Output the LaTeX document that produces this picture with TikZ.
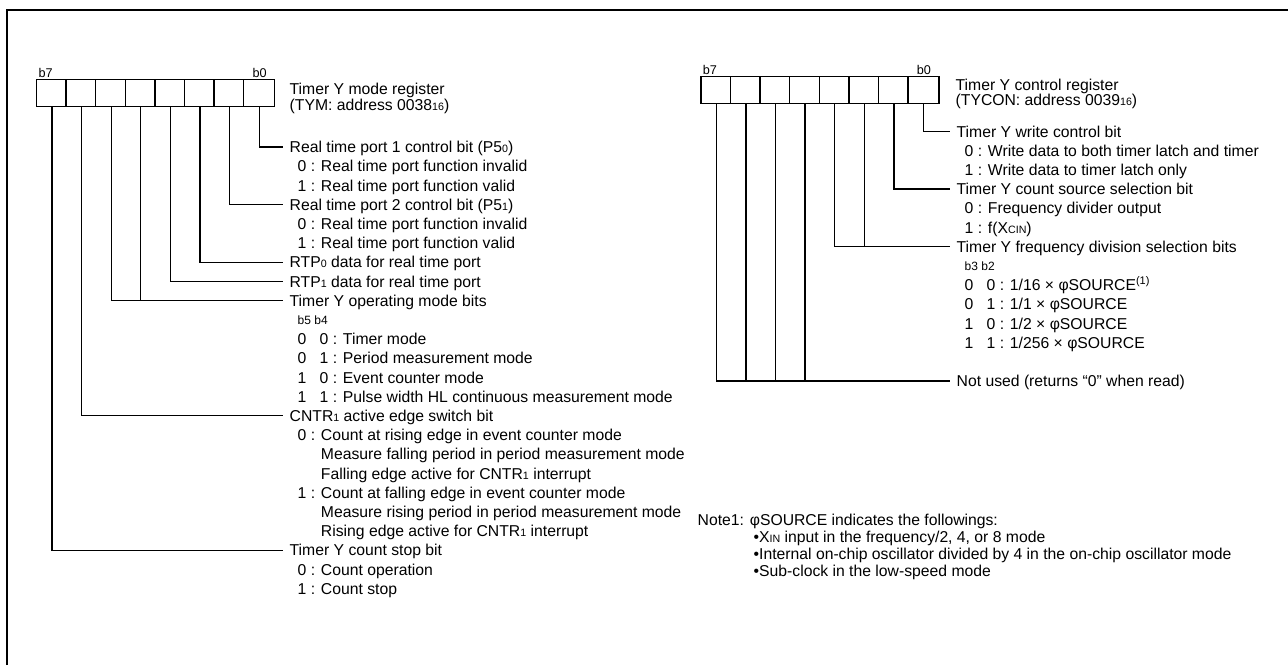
\documentclass[tikz,border=0pt]{standalone}
\usepackage{fontspec}
\setmainfont{Liberation Sans}
\usepackage{tikz}
\usetikzlibrary{positioning, calc}

\newcommand{\lowsub}[1]{{\fontsize{8}{8}\selectfont #1}}
\newcommand{\twobit}[2]{\makebox[16.5pt][l]{#1}#2}

\begin{document}
\begin{tikzpicture}[x=0.75pt, y=-0.75pt, line width=1pt,
    cell/.style={minimum width=22.2pt, minimum height=19.5pt, inner sep=0pt},
    bitno/.style={font=\fontsize{9.5}{10}\selectfont, inner sep=1pt},
    txt/.style={anchor=west, inner xsep=0pt, inner ysep=0pt, text height=8.4pt, text depth=0pt, font=\fontsize{11.8}{14}\selectfont},
    hd/.style={txt, inner xsep=4.5pt},
    small/.style={txt, text height=6.4pt, font=\fontsize{9}{10}\selectfont}]

    \useasboundingbox (0,0) rectangle (1288,665);
    % outer frame (top and left only)
    \draw[line width=2pt] (7,665) -- (7,10) -- (1288,10);

    % Timer Y mode register
    \foreach \b in {0,...,7}
        \node[cell] (tym\b) at ({259.2-\b*29.6}, 93) {};
    \draw (tym7.north west) rectangle (tym0.south east);
    \foreach \b in {0,...,6}
        \draw (tym\b.north west) -- (tym\b.south west);
    \node[bitno, anchor=south west] (tymb7) at (tym7.north west) {b7};
    \node[bitno, anchor=south east] (tymb0) at ([xshift=-4.5pt]tym0.north east) {b0};
    \node[txt] (tymname) at (289, 89) {Timer Y mode register};
    \node[txt] (tymaddr) at (289, 104.5) {(TYM: address 0038\lowsub{16})};

    \node[hd] (tymp50) at (283, 147) {Real time port 1 control bit (P5\lowsub{0})};
    \node[hd] (tymp51) at (283, {147+3*19.2}) {Real time port 2 control bit (P5\lowsub{1})};
    \node[hd] (tymrtp0) at (283, {147+6*19.2}) {RTP\lowsub{0} data for real time port};
    \node[hd] (tymrtp1) at (283, {147+7*19.2}) {RTP\lowsub{1} data for real time port};
    \node[hd] (tymmode) at (283, {147+8*19.2}) {Timer Y operating mode bits};
    \node[hd] (tymcntr) at (283, {147+14*19.2}) {CNTR\lowsub{1} active edge switch bit};
    \node[hd] (tymstop) at (283, {147+21*19.2}) {Timer Y count stop bit};

    \foreach \k/\t in {1/{0 : Real time port function invalid},
                       2/{1 : Real time port function valid},
                       4/{0 : Real time port function invalid},
                       5/{1 : Real time port function valid},
                       10/{\twobit{0}{0} : Timer mode},
                       11/{\twobit{0}{1} : Period measurement mode},
                       12/{\twobit{1}{0} : Event counter mode},
                       13/{\twobit{1}{1} : Pulse width HL continuous measurement mode},
                       15/{0 : Count at rising edge in event counter mode},
                       16/{\phantom{0 : }Measure falling period in period measurement mode},
                       17/{\phantom{0 : }Falling edge active for CNTR\lowsub{1} interrupt},
                       18/{1 : Count at falling edge in event counter mode},
                       19/{\phantom{1 : }Measure rising period in period measurement mode},
                       20/{\phantom{1 : }Rising edge active for CNTR\lowsub{1} interrupt},
                       22/{0 : Count operation},
                       23/{1 : Count stop}}
        \node[txt] (tymsub\k) at (297, {147+\k*19.2}) {\t};
    \node[small] (tymb54) at (297, {147+9*19.2}) {b5 b4};

    \draw (tym0.south) |- (tymp50.west);
    \draw (tym1.south) |- (tymp51.west);
    \draw (tym2.south) |- (tymrtp0.west);
    \draw (tym3.south) |- (tymrtp1.west);
    \draw (tym5.south) |- (tymmode.west);
    \draw (tym4.south) -- (tym4.south |- tymmode.west);
    \draw (tym6.south) |- (tymcntr.west);
    \draw (tym7.south) |- (tymstop.west);

    % Timer Y control register
    \foreach \b in {0,...,7}
        \node[cell] (tyc\b) at ({923.5-\b*29.6}, 90) {};
    \draw (tyc7.north west) rectangle (tyc0.south east);
    \foreach \b in {0,...,6}
        \draw (tyc\b.north west) -- (tyc\b.south west);
    \node[bitno, anchor=south west] (tycb7) at (tyc7.north west) {b7};
    \node[bitno, anchor=south east] (tycb0) at ([xshift=-4.5pt]tyc0.north east) {b0};
    \node[txt] (tycname) at (955, 84.5) {Timer Y control register};
    \node[txt] (tycaddr) at (955, 100) {(TYCON: address 0039\lowsub{16})};

    \node[hd] (tycwr) at (950, 131.5) {Timer Y write control bit};
    \node[hd] (tycsrc) at (950, {131.5+3*19.2}) {Timer Y count source selection bit};
    \node[hd] (tycdiv) at (950, {131.5+6*19.2}) {Timer Y frequency division selection bits};
    \node[hd] (tycnu) at (950, {131.5+13*19.2}) {Not used (returns ``0'' when read)};

    \foreach \k/\t in {1/{0 : Write data to both timer latch and timer},
                       2/{1 : Write data to timer latch only},
                       4/{0 : Frequency divider output},
                       5/{1 : f(X\lowsub{CIN})},
                       8/{\twobit{0}{0} : 1/16 × φSOURCE\textsuperscript{(1)}},
                       9/{\twobit{0}{1} : 1/1 × φSOURCE},
                       10/{\twobit{1}{0} : 1/2 × φSOURCE},
                       11/{\twobit{1}{1} : 1/256 × φSOURCE}}
        \node[txt] (tycsub\k) at (964, {131.5+\k*19.2}) {\t};
    \node[small] (tycb32) at (964, {131.5+7*19.2}) {b3 b2};

    \draw (tyc0.south) |- (tycwr.west);
    \draw (tyc1.south) |- (tycsrc.west);
    \draw (tyc3.south) |- (tycdiv.west);
    \draw (tyc2.south) -- (tyc2.south |- tycdiv.west);
    \draw (tyc7.south) |- (tycnu.west);
    \foreach \b in {4,5,6}
        \draw (tyc\b.south) -- (tyc\b.south |- tycnu.west);

    % note
    \node[txt] (note1) at (697, 520) {Note1: φSOURCE indicates the followings:};
    \node[txt] (note2) at (753, 537) {•X\lowsub{IN} input in the frequency/2, 4, or 8 mode};
    \node[txt] (note3) at (753, 554) {•Internal on-chip oscillator divided by 4 in the on-chip oscillator mode};
    \node[txt] (note4) at (753, 571) {•Sub-clock in the low-speed mode};
\end{tikzpicture}
\end{document}
